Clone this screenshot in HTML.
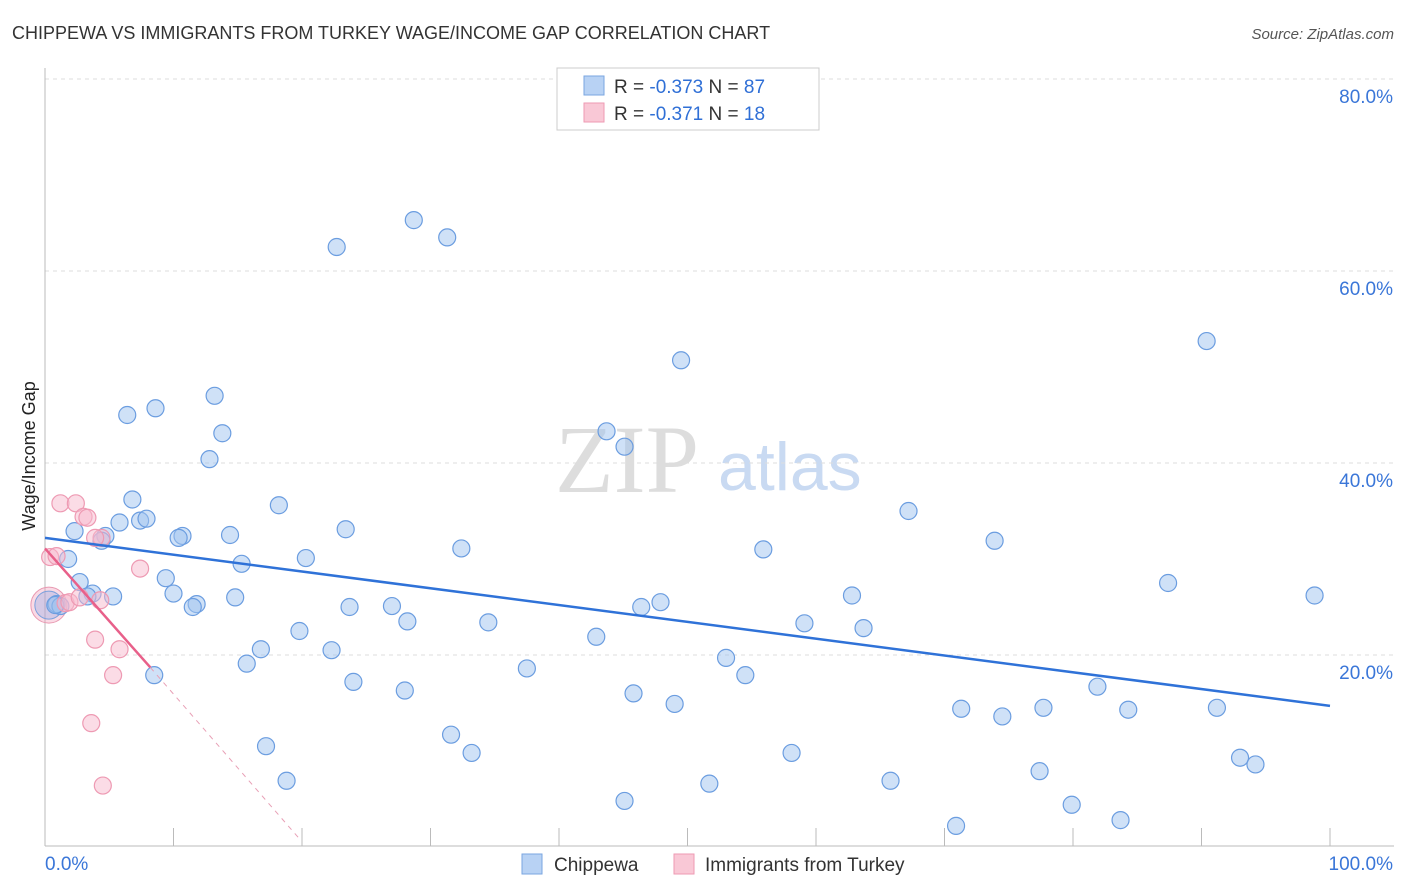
<!DOCTYPE html>
<html><head><meta charset="utf-8"><style>
body{margin:0;background:#fff;font-family:"Liberation Sans",sans-serif;}
#wrap{position:relative;width:1406px;height:892px;overflow:hidden}
</style></head><body>
<div id="wrap">
<svg id="svg" width="1406" height="892" xmlns="http://www.w3.org/2000/svg">
<text x="12" y="39" font-size="18" fill="#333">CHIPPEWA VS IMMIGRANTS FROM TURKEY WAGE/INCOME GAP CORRELATION CHART</text>
<text x="1394" y="39" font-size="15" fill="#555" font-style="italic" text-anchor="end">Source: ZipAtlas.com</text>
<text x="35" y="456" font-size="18" fill="#222" text-anchor="middle" transform="rotate(-90 35 456)">Wage/Income Gap</text>
<text x="555" y="492" font-size="96" fill="#ddd" font-family="Liberation Serif,serif">ZIP</text>
<text x="718" y="490" font-size="68" fill="#c9daf2">atlas</text>
<g id="grid"></g><g id="marks"></g>
<g>
<rect x="557" y="68" width="262" height="62" fill="#fff" stroke="#ccc"/>
<rect x="584" y="76" width="20" height="19" fill="#b8d2f4" stroke="#7aa6e0"/>
<rect x="584" y="103" width="20" height="19" fill="#f9c8d6" stroke="#ee9ab3"/>
<text x="614" y="93" font-size="19" fill="#333">R = <tspan fill="#2f6fd6">-0.373</tspan>   N = <tspan fill="#2f6fd6">87</tspan></text>
<text x="614" y="120" font-size="19" fill="#333">R =  <tspan fill="#2f6fd6">-0.371</tspan>   N =  <tspan fill="#2f6fd6">18</tspan></text>
</g>
<g>
<rect x="522" y="854" width="20" height="20" fill="#b8d2f4" stroke="#7aa6e0"/>
<text x="554" y="871" font-size="19" fill="#333">Chippewa</text>
<rect x="674" y="854" width="20" height="20" fill="#f9c8d6" stroke="#ee9ab3"/>
<text x="705" y="871" font-size="19" fill="#333">Immigrants from Turkey</text>
</g>
</svg></div>
<script>
const yTicks=[20,40,60,80];
const xLabels=["0.0%","100.0%"];
const chipX=[28.7,22.7,31.3,49.5,90.4,13.2,6.4,8.6,13.8,12.8,43.7,45.1,6.8,18.2,67.2,5.8,7.4,7.9,2.3,4.7,4.4,10.7,10.4,14.4,23.4,32.4,55.9,73.9,1.8,20.3,15.3,2.7,9.4,87.4,3.7,3.3,5.3,10.0,0.9,1.2,14.8,11.8,11.5,27.0,23.7,46.4,47.9,62.8,98.8,28.2,34.5,59.1,63.7,19.8,42.9,22.3,16.8,15.7,37.5,53.0,8.5,54.5,24.0,28.0,45.8,81.9,49.0,71.3,74.5,77.7,84.3,91.2,31.6,17.2,33.2,58.1,93.0,94.2,18.8,51.7,65.8,77.4,45.1,79.9,70.9,83.7,0.8];
const chipY=[65.3,62.5,63.5,50.7,52.7,47.0,45.0,45.7,43.1,40.4,43.3,41.7,36.2,35.6,35.0,33.8,34.0,34.2,32.9,32.4,31.9,32.4,32.2,32.5,33.1,31.1,31.0,31.9,30.0,30.1,29.5,27.6,28.0,27.5,26.4,26.1,26.1,26.4,25.3,25.1,26.0,25.3,25.0,25.1,25.0,25.0,25.5,26.2,26.2,23.5,23.4,23.3,22.8,22.5,21.9,20.5,20.6,19.1,18.6,19.7,17.9,17.9,17.2,16.3,16.0,16.7,14.9,14.4,13.6,14.5,14.3,14.5,11.7,10.5,9.8,9.8,9.3,8.6,6.9,6.6,6.9,7.9,4.8,4.4,2.2,2.8,25.2];
const turX=[0.4,0.9,1.2,2.4,3.0,3.3,4.4,3.9,7.4,4.3,1.6,1.9,2.7,3.9,5.8,5.3,3.6,4.5];
const turY=[30.2,30.3,35.8,35.8,34.4,34.3,32.2,32.2,29.0,25.7,25.4,25.5,26.0,21.6,20.6,17.9,12.9,6.4];
const X=v=>45+v*12.85, Y=v=>847-v*9.6;
const NS="http://www.w3.org/2000/svg";
const grid=document.getElementById('grid'), marks=document.getElementById('marks');
function mk(tag,attrs,parent){const e=document.createElementNS(NS,tag);for(const k in attrs)e.setAttribute(k,attrs[k]);parent.appendChild(e);return e;}
yTicks.forEach(t=>{
 const l=mk('line',{x1:45,x2:1394,y1:Y(t),y2:Y(t),stroke:'#ddd','stroke-dasharray':'4 4'},grid);
 
 
 const tx=mk('text',{x:1393,y:Y(t)+24,'font-size':19,fill:'#3a76d8','text-anchor':'end'},grid);
 tx.textContent=t.toFixed(1)+'%';
 
 
});
mk('line',{x1:45,x2:45,y1:68,y2:846,stroke:'#bbb'},grid);
mk('line',{x1:45,x2:1394,y1:846,y2:846,stroke:'#bbb'},grid);
for(let i=0;i<=10;i++){const t=mk('line',{x1:X(i*10),x2:X(i*10),y1:828,y2:846,stroke:'#bbb'},grid);
 
 }
xLabels.forEach((s,i)=>{const t=mk('text',{x:i?1393:45,y:870,'font-size':19,fill:'#3a76d8','text-anchor':i?'end':'start'},grid);t.textContent=s;
 
 });
// big overlap circles
mk('circle',{cx:X(0.3),cy:Y(25.2),r:18,fill:'rgba(240,150,180,0.35)',stroke:'#e89ab2'},marks);
mk('circle',{cx:X(0.3),cy:Y(25.2),r:14,fill:'rgba(140,170,230,0.35)',stroke:'#7aa0dd'},marks);
chipX.forEach((v,i)=>{const c=mk('circle',{cx:X(v),cy:Y(chipY[i]),r:8.5,fill:'rgba(160,195,240,0.5)',stroke:'#6b9de0','stroke-width':1.2},marks);
 
 });
turX.forEach((v,i)=>{const c=mk('circle',{cx:X(v),cy:Y(turY[i]),r:8.5,fill:'rgba(248,185,205,0.5)',stroke:'#ee9ab3','stroke-width':1.2},marks);
 
 });
const bl=mk('line',{x1:X(0),y1:Y(32.2),x2:X(100),y2:Y(14.7),stroke:'#2f72d8','stroke-width':2.5},marks);


const pl=mk('line',{x1:X(0),y1:Y(31.1),x2:X(8.2),y2:Y(18.7),stroke:'#e8608a','stroke-width':2.5},marks);


const pd=mk('line',{x1:X(8.2),y1:Y(18.7),x2:X(19.9),y2:Y(0.7),stroke:'#e8a0b6','stroke-width':1,'stroke-dasharray':'5 5'},marks);


</script>
</body></html>
